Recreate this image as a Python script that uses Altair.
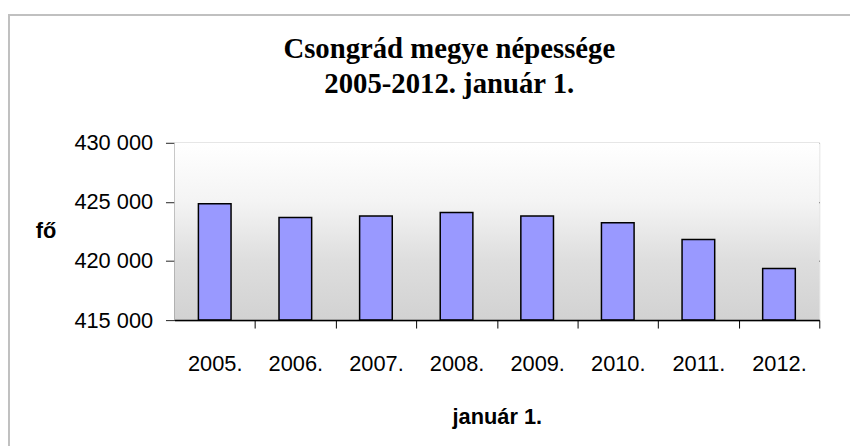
import altair as alt
import pandas as pd

years = ["2005.", "2006.", "2007.", "2008.", "2009.", "2010.", "2011.", "2012."]
population = [424840, 423690, 423800, 424110, 423800, 423240, 421820, 419360]

y_min, y_max, y_step = 415000, 430000, 5000

df = pd.DataFrame({"ev": years, "nepesseg": population})

W, H = 651, 179
label_font = "Liberation Sans"
half_step = W / len(years) / 2

# plot-area gradient background
bg = alt.Chart(pd.DataFrame({"a": [0]})).mark_rect(
    fill=alt.Gradient(
        gradient="linear",
        stops=[
            alt.GradientStop(color="#ffffff", offset=0),
            alt.GradientStop(color="#f4f4f4", offset=0.33),
            alt.GradientStop(color="#dedede", offset=0.66),
            alt.GradientStop(color="#d2d2d2", offset=1),
        ],
        x1=0, x2=0, y1=0, y2=1,
    )
).encode(
    x=alt.value(0), x2=alt.value(W),
    y=alt.value(0), y2=alt.value(H),
)

# outer chart frame (Excel-style border)
frame = alt.Chart(pd.DataFrame({"a": [0]})).mark_rect(
    filled=False, stroke="#c0c0c0", strokeWidth=2
).encode(
    x=alt.value(-167), x2=alt.value(1200),
    y=alt.value(-129), y2=alt.value(1200),
)

bars = alt.Chart(df).mark_bar(
    fill="#9999ff", stroke="#000000", strokeWidth=1.5
).encode(
    x=alt.X(
        "ev:N", sort=years,
        scale=alt.Scale(paddingInner=0.595, paddingOuter=0.2975),
        axis=alt.Axis(
            title="január 1.",
            titleFont="Liberation Sans", titleFontSize=22, titleFontWeight="bold",
            titleColor="#000000",
            titleBaseline="alphabetic", titleY=104, titleX=W / 2,
            labelFont=label_font, labelFontSize=22, labelColor="#000000",
            labelAngle=0, labelBaseline="alphabetic", labelPadding=43,
            labelOffset=-half_step,
            ticks=True, tickOffset=half_step, tickSize=8,
            tickColor="#000000", tickWidth=1,
            domainColor="#000000", domainWidth=1.5,
            grid=False, zindex=1,
        ),
    ),
    y=alt.Y(
        "nepesseg:Q",
        scale=alt.Scale(domain=[y_min, y_max], nice=False, zero=False),
        axis=alt.Axis(
            values=list(range(y_min, y_max + 1, y_step)),
            labelExpr="replace(format(datum.value, ',d'), ',', ' ')",
            title="fő",
            titleFont="Liberation Sans", titleFontSize=22, titleFontWeight="bold",
            titleColor="#000000",
            titleAngle=0, titleAlign="center", titleBaseline="alphabetic",
            titleX=-130, titleY=96,
            labelFont=label_font, labelFontSize=22, labelColor="#000000",
            labelPadding=13, tickSize=9, tickColor="#222222",
            domainColor="#333333",
            grid=True,
            gridColor={"condition": {"test": "datum.value == 430000", "value": "#8a8a8a"}, "value": "#222222"},
            gridWidth=1,
        ),
    ),
    y2=alt.Y2(datum=y_min),
)

chart = alt.layer(frame, bg, bars).properties(
    width=W,
    height=H,
    autosize=alt.AutoSizeParams(type="none"),
    padding={"left": 168, "top": 134, "right": 31, "bottom": 125},
    title=alt.TitleParams(
        text=["Csongrád megye népessége", "2005-2012. január 1."],
        font="Liberation Serif", fontSize=29, fontWeight="bold", color="#000000",
        anchor="middle", frame="group", dx=-48, dy=86, lineHeight=36,
        offset=0,
    ),
).configure_view(
    stroke="#8a8a8a", strokeWidth=1
).configure(background="#ffffff")

chart.save("out.html", embed_options={"renderer": "svg", "actions": False})
